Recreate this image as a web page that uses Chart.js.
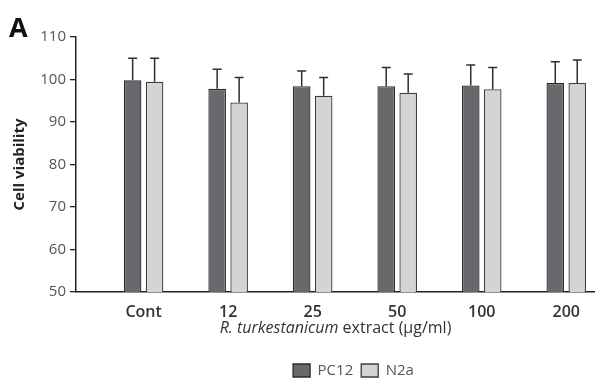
<!DOCTYPE html>
<html>
<head>
<meta charset="utf-8">
<script src="https://cdn.jsdelivr.net/npm/chart.js@4"></script>
<style>
  html, body { margin: 0; padding: 0; background: #fff; }
</style>
</head>
<body>
<canvas id="viabilityChart" width="595" height="378"></canvas>
<script>
// Cell viability data
const categories = ["Cont", "12", "25", "50", "100", "200"];
const pc12Values = [99.8, 97.8, 98.4, 98.4, 98.6, 99.2];
const pc12Errors = [5.2, 4.6, 3.6, 4.4, 4.8, 5.0];
const n2aValues = [99.5, 94.6, 96.2, 96.9, 97.7, 99.2];
const n2aErrors = [5.5, 5.9, 4.3, 4.4, 5.1, 5.4];
const yTicks = [50, 60, 70, 80, 90, 100, 110];

const FONT = "'Open Sans', 'Noto Sans', sans-serif";

// Upward-only error bars with a cap
const errorBars = {
  id: "errorBars",
  afterDatasetsDraw(chart) {
    const ctx = chart.ctx;
    const yScale = chart.scales.y;
    chart.data.datasets.forEach((ds, i) => {
      const meta = chart.getDatasetMeta(i);
      meta.data.forEach((bar, j) => {
        const top = yScale.getPixelForValue(ds.data[j].y + ds.errors[j]);
        ctx.save();
        ctx.strokeStyle = "#2e2e2e";
        ctx.lineWidth = 1.5;
        ctx.beginPath();
        ctx.moveTo(bar.x, bar.y);
        ctx.lineTo(bar.x, top);
        ctx.moveTo(bar.x - 4.5, top);
        ctx.lineTo(bar.x + 4.5, top);
        ctx.stroke();
        ctx.restore();
      });
    });
  },
};

// Panel letter and x axis title (italic species name)
const extraText = {
  id: "extraText",
  afterDraw(chart) {
    const ctx = chart.ctx;
    const area = chart.chartArea;
    ctx.save();
    ctx.fillStyle = "#111";
    ctx.textBaseline = "alphabetic";
    ctx.font = "bold 27px " + FONT;
    ctx.fillText("A", 9, 37);

    const italicPart = "R. turkestanicum";
    const plainPart = " extract (μg/ml)";
    ctx.fillStyle = "#333";
    ctx.textBaseline = "middle";
    ctx.font = "italic 16px " + FONT;
    const w1 = ctx.measureText(italicPart).width;
    ctx.font = "16px " + FONT;
    const w2 = ctx.measureText(plainPart).width;
    let x = (area.left + area.right) / 2 - (w1 + w2) / 2;
    const y = chart.scales.x.top + 36;
    ctx.font = "italic 16px " + FONT;
    ctx.fillText(italicPart, x, y);
    ctx.font = "16px " + FONT;
    ctx.fillText(plainPart, x + w1, y);
    ctx.restore();
  },
};

// Move the legend a bit lower / right like the original figure
const legendNudge = {
  id: "legendNudge",
  afterLayout(chart) {
    const legend = chart.legend;
    legend.top += 10;
    legend.bottom += 10;
    legend.left += 56;
    legend.right += 56;
  },
};

function toPoints(values) {
  return values.map((v, i) => ({ x: i, y: v }));
}

const ctx = document.getElementById("viabilityChart").getContext("2d");
new Chart(ctx, {
  type: "bar",
  data: {
    datasets: [
      {
        label: "PC12",
        data: toPoints(pc12Values),
        errors: pc12Errors,
        backgroundColor: "#68696d",
        borderColor: "#2a2a2a",
        borderWidth: 1.3,
        borderSkipped: false,
      },
      {
        label: "N2a",
        data: toPoints(n2aValues),
        errors: n2aErrors,
        backgroundColor: "#d3d4d6",
        borderColor: "#3c3c3c",
        borderWidth: 1.3,
        borderSkipped: false,
      },
    ],
  },
  options: {
    responsive: false,
    animation: false,
    categoryPercentage: 0.52,
    barPercentage: 0.8,
    layout: {
      padding: { top: 37, left: 0, right: 0, bottom: 0 },
    },
    plugins: {
      tooltip: { enabled: false },
      legend: {
        position: "bottom",
        labels: {
          boxWidth: 17,
          boxHeight: 13,
          padding: 8,
          color: "#555",
          font: { family: FONT, size: 15 },
        },
      },
    },
    scales: {
      x: {
        type: "linear",
        offset: false,
        min: -0.8,
        max: 5.34,
        afterFit: (scale) => {
          scale.height = 53;
        },
        grid: { display: false, offset: false },
        border: { display: true, color: "#222", width: 1.5 },
        ticks: {
          stepSize: 1,
          includeBounds: false,
          autoSkip: false,
          maxRotation: 0,
          padding: 3,
          color: "#333",
          font: { family: FONT, size: 16, weight: "600" },
          callback: (value) =>
            Number.isInteger(value) && categories[value] !== undefined
              ? categories[value]
              : "",
        },
      },
      y: {
        min: yTicks[0],
        max: yTicks[yTicks.length - 1],
        afterFit: (scale) => {
          scale.width = 76;
        },
        grid: {
          drawOnChartArea: false,
          drawTicks: true,
          tickLength: 6,
          color: "#222",
          lineWidth: 1.3,
        },
        border: { display: true, color: "#222", width: 1.5 },
        ticks: {
          stepSize: 10,
          padding: 4,
          color: "#555",
          font: { family: FONT, size: 15 },
        },
        title: {
          display: true,
          text: "Cell viability",
          color: "#222",
          padding: { top: 11, bottom: 0 },
          font: { family: FONT, size: 15, weight: "bold" },
        },
      },
    },
  },
  plugins: [errorBars, extraText, legendNudge],
});
</script>
</body>
</html>
